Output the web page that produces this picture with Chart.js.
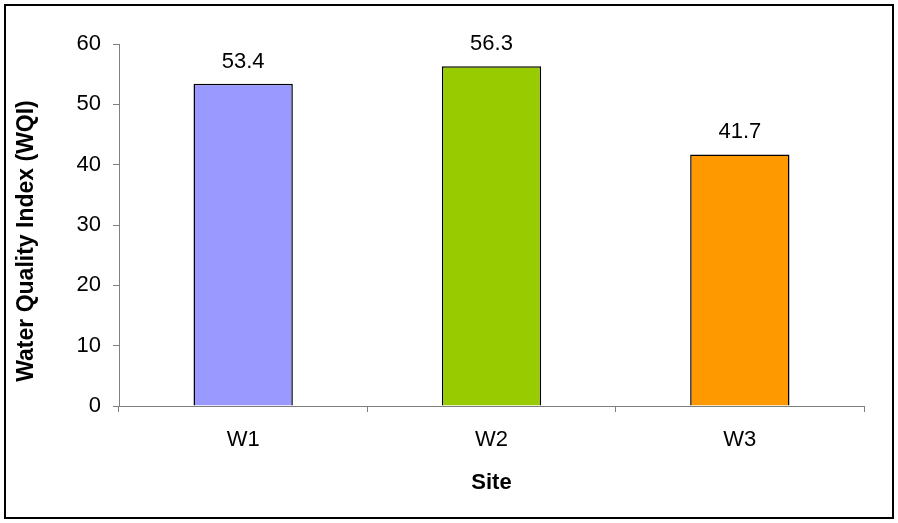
<!DOCTYPE html>
<html>
<head>
<meta charset="utf-8">
<script src="https://cdn.jsdelivr.net/npm/chart.js@4.4.1/dist/chart.umd.min.js"></script>
<style>
  html, body { margin: 0; padding: 0; background: #fff; }
  #wrap { width: 898px; height: 523px; }
</style>
</head>
<body>
<div id="wrap"><canvas id="chart" width="898" height="523"></canvas></div>
<script>
// chart data
const sites     = ["W1", "W2", "W3"];
const wqi       = [53.4, 56.3, 41.7];
const barColors = ["#9999FF", "#99CC00", "#FF9900"];
const yTicks    = [0, 10, 20, 30, 40, 50, 60];
const yTitle    = "Water Quality Index (WQI)";
const xTitle    = "Site";

const axisGray = "#808080";
const fontFam  = "Arial, 'Liberation Sans', sans-serif";

// draws the value above each bar
const valueLabels = {
  id: "valueLabels",
  afterDatasetsDraw(chart) {
    const ctx = chart.ctx;
    const meta = chart.getDatasetMeta(0);
    ctx.save();
    ctx.font = "22px " + fontFam;
    ctx.fillStyle = "#000";
    ctx.textAlign = "center";
    ctx.textBaseline = "middle";
    meta.data.forEach((bar, i) => {
      ctx.fillText(wqi[i].toFixed(1), bar.x, bar.y - 22);
    });
    ctx.restore();
  }
};

// y axis title sits a bit below the middle of the axis, like the original
const yAxisTitle = {
  id: "yAxisTitle",
  afterDraw(chart) {
    const ctx = chart.ctx;
    const y = chart.scales.y;
    ctx.save();
    ctx.translate(27, (y.top + y.bottom) / 2 + 16);
    ctx.rotate(-Math.PI / 2);
    ctx.font = "bold 23px " + fontFam;
    ctx.fillStyle = "#000";
    ctx.textAlign = "center";
    ctx.textBaseline = "middle";
    ctx.fillText(yTitle, 0, 0);
    ctx.restore();
  }
};

// outer frame round the whole chart
const outerFrame = {
  id: "outerFrame",
  afterDraw(chart) {
    const ctx = chart.ctx;
    ctx.save();
    ctx.strokeStyle = "#000";
    ctx.lineWidth = 2;
    ctx.strokeRect(5, 5, chart.width - 10, chart.height - 10);
    ctx.restore();
  }
};

new Chart(document.getElementById("chart"), {
  type: "bar",
  data: {
    labels: sites,
    datasets: [{
      data: wqi,
      backgroundColor: barColors,
      borderColor: "#000",
      borderWidth: 1.5,
      barPercentage: 0.4,
      categoryPercentage: 1.0
    }]
  },
  options: {
    responsive: false,
    animation: false,
    devicePixelRatio: 1,
    layout: { padding: { left: 0, top: 44, right: 34, bottom: 0 } },
    plugins: {
      legend: { display: false },
      tooltip: { enabled: false }
    },
    scales: {
      x: {
        offset: true,
        grid: {
          offset: true,
          drawOnChartArea: false,
          drawTicks: true,
          tickLength: 6,
          color: axisGray
        },
        border: { color: axisGray, width: 1 },
        ticks: {
          color: "#000",
          font: { family: fontFam, size: 22 },
          padding: 15
        },
        title: {
          display: true,
          text: xTitle,
          color: "#000",
          font: { family: fontFam, size: 22, weight: "bold" },
          padding: { top: 0, bottom: 27 }
        },
        afterFit: s => { s.height = 117; }
      },
      y: {
        min: 0,
        max: 60,
        afterBuildTicks: s => { s.ticks = yTicks.map(v => ({ value: v })); },
        grid: {
          drawOnChartArea: false,
          drawTicks: true,
          tickLength: 6,
          color: axisGray
        },
        border: { color: axisGray, width: 1 },
        ticks: {
          color: "#000",
          font: { family: fontFam, size: 22 },
          padding: 12
        },
        afterFit: s => { s.width = 119; }
      }
    }
  },
  plugins: [valueLabels, yAxisTitle, outerFrame]
});
</script>
</body>
</html>
